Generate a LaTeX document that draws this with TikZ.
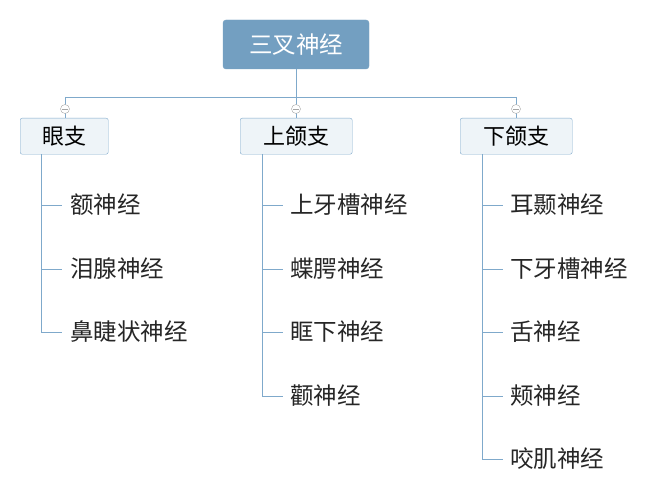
\documentclass[tikz,border=0pt]{standalone}
\usepackage{fontspec}
\setmainfont{Noto Sans CJK SC}
\usetikzlibrary{positioning}
\definecolor{rootblue}{HTML}{739FC1}
\definecolor{linkblue}{HTML}{7FA9CB}
\definecolor{branchfill}{HTML}{EEF4F8}
\begin{document}
\begin{tikzpicture}[x=1pt,y=-1pt,
    root/.style={draw=rootblue, fill=rootblue, rounded corners=3pt, text=white,
        minimum width=146pt, minimum height=49pt, font=\fontsize{23.5}{28}\selectfont},
    branch/.style={draw=linkblue, fill=branchfill, rounded corners=2pt,
        minimum height=36pt, inner xsep=8pt, anchor=north west, font=\fontsize{22}{26}\selectfont},
    leaf/.style={anchor=west, inner sep=0pt, text=black!85, font=\fontsize{23.5}{28}\selectfont},
    fold/.style={draw=gray!70, fill=white, circle, inner sep=0pt, minimum size=9pt},
    link/.style={draw=linkblue, line width=0.8pt}]
\useasboundingbox (0,0) rectangle (661,500);
\node[root] (r) at (296,44.5) {三叉神经};
\coordinate (j) at (296,97);
\draw[link] (r.south) -- (j);
\draw[link] (65,97) -- (516,97);
% branches
\node[branch, minimum width=88pt] (b1) at (20,118) {眼支};
\node[branch, minimum width=112pt] (b2) at (240,118) {上颌支};
\node[branch, minimum width=112pt] (b3) at (460,118) {下颌支};
\foreach \x/\b in {65/b1,296/b2,516/b3}{
  \draw[link] (\x,97) -- (\x,118);
  \node[fold] at (\x,109) {};
  \draw[gray!70, line width=0.6pt] (\x-3,109) -- (\x+3,109);
}
% leaves
\draw[link] (41,154) -- (41,332);
\foreach \y/\t [count=\i] in {205/额神经,269/泪腺神经,332/鼻睫状神经}{
  \node[leaf] (l1\i) at (70,\y) {\t};
  \draw[link] (41,\y) -- (62,\y);
}
\draw[link] (262,154) -- (262,396);
\foreach \y/\t [count=\i] in {205/上牙槽神经,269/蝶腭神经,332/眶下神经,396/颧神经}{
  \node[leaf] (l2\i) at (290,\y) {\t};
  \draw[link] (262,\y) -- (283,\y);
}
\draw[link] (482,154) -- (482,459);
\foreach \y/\t [count=\i] in {205/耳颞神经,269/下牙槽神经,332/舌神经,396/颊神经,459/咬肌神经}{
  \node[leaf] (l3\i) at (510,\y) {\t};
  \draw[link] (482,\y) -- (503,\y);
}
\end{tikzpicture}
\end{document}
